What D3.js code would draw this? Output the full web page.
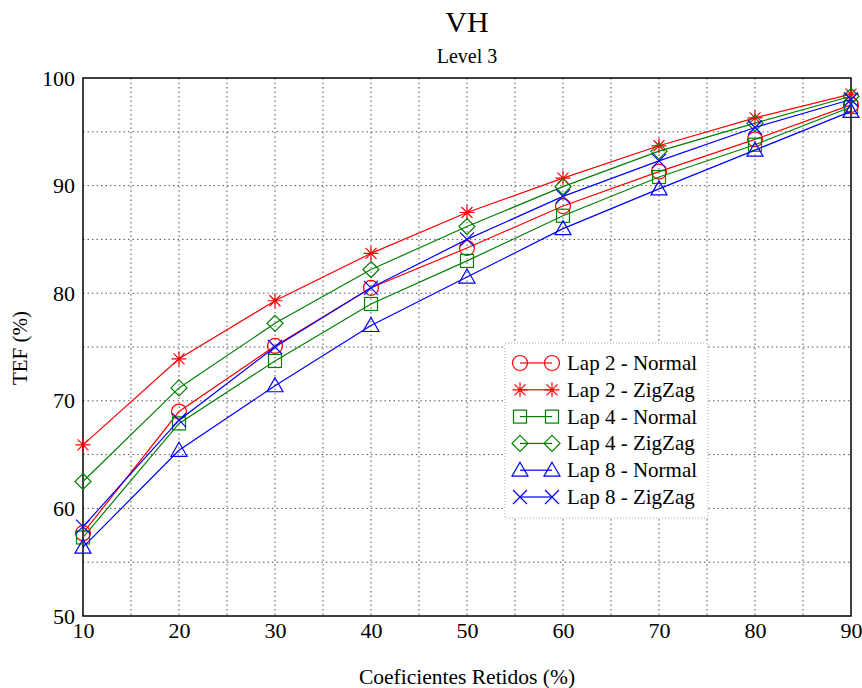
<!DOCTYPE html>
<html><head><meta charset="utf-8">
<script src="https://cdn.jsdelivr.net/npm/d3@7"></script>
<style>body{margin:0;background:#fff}svg text{font-family:"Liberation Serif","Times New Roman",serif}</style>
</head><body><svg id="c" width="862" height="688"></svg>
<script>
const xValues = [10,20,30,40,50,60,70,80,90];
const seriesNames = ["Lap 2 - Normal","Lap 2 - ZigZag","Lap 4 - Normal","Lap 4 - ZigZag","Lap 8 - Normal","Lap 8 - ZigZag"];
const lap2Normal = [57.7,69.0,75.1,80.5,84.2,88.1,91.3,94.3,97.5];
const lap2ZigZag = [65.9,73.9,79.3,83.7,87.5,90.7,93.7,96.3,98.5];
const lap4Normal = [57.3,67.9,73.7,79.0,83.0,87.2,90.8,93.8,97.3];
const lap4ZigZag = [62.5,71.2,77.2,82.2,86.2,89.9,93.2,95.8,98.3];
const lap8Normal = [56.4,65.4,71.4,77.0,81.5,86.0,89.7,93.3,96.9];
const lap8ZigZag = [58.3,68.2,75.0,80.5,85.0,89.0,92.3,95.4,98.0];
const seriesColors = ["#ff0000","#ff0000","#008000","#008000","#0000ff","#0000ff"];
const seriesMarkers = ["circle","star","square","diamond","triangle","x"];
const xTicks = [10,20,30,40,50,60,70,80,90];
const yTicks = [50,60,70,80,90,100];

const allSeries = [lap2Normal,lap2ZigZag,lap4Normal,lap4ZigZag,lap8Normal,lap8ZigZag];
const svg = d3.select("#c");
const L=83,R=851,T=78,B=616;
const x = d3.scaleLinear().domain([10,90]).range([L,R]);
const y = d3.scaleLinear().domain([50,100]).range([B,T]);
const FF = "Liberation Serif";

// grid
const gx = d3.range(15,90,5), gy = d3.range(55,100,5);
svg.append("g").selectAll("line").data(gx).join("line")
 .attr("x1",d=>x(d)).attr("x2",d=>x(d)).attr("y1",T).attr("y2",B)
 .attr("stroke","#555").attr("stroke-width",1).attr("stroke-dasharray","1.5,3");
svg.append("g").selectAll("line").data(gy).join("line")
 .attr("y1",d=>y(d)).attr("y2",d=>y(d)).attr("x1",L).attr("x2",R)
 .attr("stroke","#555").attr("stroke-width",1).attr("stroke-dasharray","1.5,3");

// axes
const xa = svg.append("g").attr("transform",`translate(0,${B})`).attr("font-family",FF)
 .call(d3.axisBottom(x).tickValues(xTicks).tickSize(0).tickPadding(6));
xa.attr("font-family",FF);
xa.select(".domain").remove();
xa.selectAll("text").attr("font-size",22).attr("font-family",FF).attr("fill","#000");
const ya = svg.append("g").attr("transform",`translate(${L},0)`)
 .call(d3.axisLeft(y).tickValues(yTicks).tickSize(0).tickPadding(8));
ya.attr("font-family",FF);
ya.select(".domain").remove();
ya.selectAll("text").attr("font-size",22).attr("font-family",FF).attr("fill","#000");

// frame
svg.append("rect").attr("x",L).attr("y",T).attr("width",R-L).attr("height",B-T)
 .attr("fill","none").attr("stroke","#000").attr("stroke-width",1.5);

// titles
svg.append("text").attr("x",467).attr("y",32).attr("text-anchor","middle").attr("font-family",FF).attr("font-size",30).text("VH");
svg.append("text").attr("x",467).attr("y",63).attr("text-anchor","middle").attr("font-family",FF).attr("font-size",20).text("Level 3");
svg.append("text").attr("x",467).attr("y",684).attr("text-anchor","middle").attr("font-family",FF).attr("font-size",21.5).text("Coeficientes Retidos (%)");
svg.append("text").attr("transform","translate(27,348) rotate(-90)").attr("text-anchor","middle").attr("font-family",FF).attr("font-size",21).text("TEF (%)");

function marker(g,type,cx,cy,color){
  const s={fill:"none",stroke:color,"stroke-width":1.2};
  const ap=(el)=>{for(const k in s)el.attr(k,s[k]);return el;};
  if(type==="circle") ap(g.append("circle").attr("cx",cx).attr("cy",cy).attr("r",7.5));
  else if(type==="square") ap(g.append("rect").attr("x",cx-6.5).attr("y",cy-6.5).attr("width",13).attr("height",13));
  else if(type==="diamond") ap(g.append("path").attr("d",`M${cx},${cy-8}L${cx+8},${cy}L${cx},${cy+8}L${cx-8},${cy}Z`));
  else if(type==="triangle") ap(g.append("path").attr("d",`M${cx},${cy-8}L${cx+8},${cy+6}L${cx-8},${cy+6}Z`));
  else if(type==="x") ap(g.append("path").attr("d",`M${cx-7},${cy-7}L${cx+7},${cy+7}M${cx-7},${cy+7}L${cx+7},${cy-7}`));
  else if(type==="star") ap(g.append("path").attr("d",`M${cx-7.5},${cy}L${cx+7.5},${cy}M${cx},${cy-7.5}L${cx},${cy+7.5}M${cx-5.5},${cy-5.5}L${cx+5.5},${cy+5.5}M${cx-5.5},${cy+5.5}L${cx+5.5},${cy-5.5}`));
}

const line = d3.line().x((d,i)=>x(xValues[i])).y(d=>y(d));
allSeries.forEach((vals,si)=>{
  const g=svg.append("g");
  g.append("path").attr("d",line(vals)).attr("fill","none").attr("stroke",seriesColors[si]).attr("stroke-width",1.2);
  vals.forEach((v,i)=>marker(g,seriesMarkers[si],x(xValues[i]),y(v),seriesColors[si]));
});

// legend
const lg = svg.append("g");
lg.append("rect").attr("x",505).attr("y",343).attr("width",203).attr("height",175)
 .attr("fill","#fff").attr("stroke","#aaa").attr("stroke-width",1).attr("stroke-dasharray","1,2");
seriesNames.forEach((n,i)=>{
  const yy=363+i*26.8;
  lg.append("line").attr("x1",520).attr("x2",552).attr("y1",yy).attr("y2",yy).attr("stroke",seriesColors[i]).attr("stroke-width",1.2);
  marker(lg,seriesMarkers[i],520,yy,seriesColors[i]);
  marker(lg,seriesMarkers[i],552,yy,seriesColors[i]);
  lg.append("text").attr("x",567).attr("y",yy+7).attr("font-family",FF).attr("font-size",21).text(n);
});
</script></body></html>
